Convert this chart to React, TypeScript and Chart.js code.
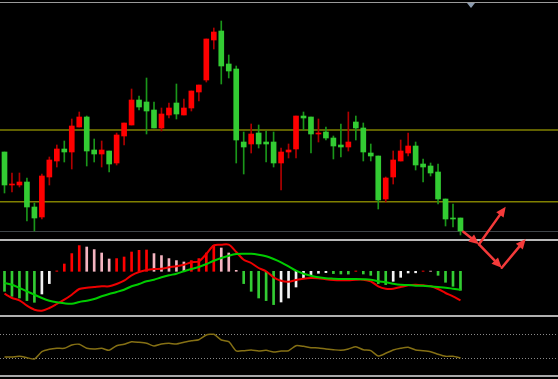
import React, { useEffect, useRef } from "react";
import { Chart, registerables } from "chart.js";

Chart.register(...registerables);

// ---------- data ----------
const OPEN = [98,65,65,68,43,33,73,89,101,98,123,133,100,96,99,87,114,125,150,148,140,122,135,147,135,142,158,170,210,219,186,181,108,106,117,108,108,87,98,101,134,133,116,118,112,105,103,128,122,97,94,51,73,89,97,104,86,84,78,51,32,32];
const HIGH = [98,77,77,72,47,76,93,105,109,131,138,134,111,109,99,117,127,161,154,172,148,142,147,166,151,159,165,211,222,229,195,184,118,126,125,119,118,102,106,134,138,133,131,123,114,126,138,134,127,106,94,73,99,110,117,108,91,87,86,51,46,32];
const LOW = [57,58,63,29,19,31,65,83,88,81,123,84,88,83,78,85,105,125,140,116,122,119,132,131,135,139,149,168,201,166,172,87,76,97,102,88,83,60,92,92,120,97,108,110,91,93,99,110,89,89,41,48,66,89,94,80,68,74,46,24,23,15];
const CLOSE = [65,66,68,43,32,74,90,101,98,124,133,99,96,100,86,115,127,150,143,139,122,136,142,136,142,159,165,211,218,184,179,110,103,116,106,106,87,98,100,134,132,116,117,112,104,103,108,122,98,94,50,72,90,99,104,85,83,77,51,31,31,19];

const PRICE_LEVELS = [120, 48.3];

const MACD_HIST = [-20,-25,-26.7,-29.3,-31,-22.7,-12.3,0.4,7.3,17.7,25.7,24.3,21.7,18.3,12.3,12.7,14.3,19.3,21,21.3,17.7,15.7,12.7,10.7,9.3,10.7,12.7,18.3,25.7,23.3,18.3,1,-12.3,-20,-26.7,-29.3,-33.3,-30.7,-26.7,-15.7,-6.7,-4.3,-2,-1.3,-2.3,-2.7,-2.8,0.3,-2.7,-4,-12.3,-13.3,-10,-6,-1.7,-1.5,0.3,0.2,-4,-11,-15,-19];
const DIF = [-22.4,-26.7,-29,-34.4,-38.4,-39.4,-36.7,-32.7,-28.4,-23.4,-17.7,-16.4,-15.7,-15,-15,-12.7,-9.4,-4,-0.7,1.3,2.3,2.6,4,5,6.6,9,10,17.3,26,26.6,26.6,19.3,11.6,8.3,3.3,0,-6,-9.4,-10.4,-8.7,-7.4,-6.7,-7,-8,-8.7,-9,-9,-8.4,-8.4,-10,-15,-17.4,-17.4,-15.7,-14,-13.4,-14,-15,-17.7,-21.7,-25,-29];
const DEA = [-11.7,-13.4,-16.7,-20,-23.4,-26.7,-29.4,-31,-32,-32.4,-30.7,-29.4,-27.7,-25,-22.7,-20.7,-18.4,-15,-12.7,-10,-8.4,-6,-4,-2.4,0,2.3,4.3,7.3,10.6,13.3,15.6,17.3,17.6,17.6,16.6,15,12.3,9,5,0.6,-2.4,-4.4,-6,-7,-7.4,-7.7,-7.7,-7.7,-8,-8.4,-10,-11,-12.4,-13.4,-13.7,-14.4,-14.4,-15,-15.7,-16.4,-17.4,-18.4];

const OSC = [32.2,32.2,33.3,31,28.8,41,45,46.7,46.7,52.2,53.3,46.7,45.5,46.7,43.3,51,53.3,57.7,56.7,55,50.5,53.8,55,53.8,56.7,59.3,61,68.8,70,60.5,57.7,42.2,42.7,43.8,42.2,43.3,40.5,42.2,42.7,51,50,47.7,47.2,45.5,44.3,43.3,45.5,49.3,44.3,42.7,33.8,38.3,43.8,46.7,48.3,43.8,42.7,41,36.7,33.3,33.3,30.5];
const OSC_LEVELS = [70, 30];

// arrows: [fromIndex, fromPrice, toIndex, toPrice]
const ARROWS = [
  [61.38, 18.3, 63.48, 5.7],
  [63.48, 5.7, 67.05, 43.3],
  [63.48, 5.7, 66.52, -17.7],
  [66.52, -17.7, 69.73, 11],
];

// ---------- styling ----------
const W = 558;
const STEP = 7.475;
const X_MIN = -4.5 / STEP;
const X_MAX = X_MIN + W / STEP;

const UP = "#ff0000";
const DOWN = "#33cc33";
const UP_WICK = "#b00000";
const DOWN_WICK = "#1a961a";

const idx = OPEN.map((_, i) => i);

const baseOptions = (yMin: number, yMax: number) => ({
  responsive: false,
  maintainAspectRatio: false,
  animation: false as const,
  events: [] as any[],
  layout: { padding: 0 },
  plugins: { legend: { display: false }, tooltip: { enabled: false } },
  scales: {
    x: { type: "linear" as const, min: X_MIN, max: X_MAX, display: false, offset: false, grid: { display: false } },
    y: { type: "linear" as const, min: yMin, max: yMax, display: false, grid: { display: false } },
  },
});

const levelsPlugin = {
  id: "levels",
  beforeDatasetsDraw(chart: any) {
    const { ctx, chartArea, scales } = chart;
    ctx.save();
    ctx.strokeStyle = "#808000";
    ctx.lineWidth = 1.5;
    PRICE_LEVELS.forEach((v) => {
      const py = scales.y.getPixelForValue(v);
      ctx.beginPath();
      ctx.moveTo(chartArea.left, py);
      ctx.lineTo(chartArea.right, py);
      ctx.stroke();
    });
    ctx.restore();
  },
};

const arrowsPlugin = {
  id: "arrows",
  afterDatasetsDraw(chart: any) {
    const { ctx, scales } = chart;
    ctx.save();
    ctx.strokeStyle = "#f43a3a";
    ctx.fillStyle = "#f43a3a";
    ctx.lineWidth = 2.5;
    ctx.lineCap = "round";
    ARROWS.forEach(([x1, y1, x2, y2]) => {
      const ax = scales.x.getPixelForValue(x1);
      const ay = scales.y.getPixelForValue(y1);
      const bx = scales.x.getPixelForValue(x2);
      const by = scales.y.getPixelForValue(y2);
      const ang = Math.atan2(by - ay, bx - ax);
      const hl = 10, hw = 4.5;
      const cx = bx - Math.cos(ang) * hl;
      const cy = by - Math.sin(ang) * hl;
      ctx.beginPath();
      ctx.moveTo(ax, ay);
      ctx.lineTo(cx, cy);
      ctx.stroke();
      ctx.beginPath();
      ctx.moveTo(bx, by);
      ctx.lineTo(cx + Math.sin(ang) * hw, cy - Math.cos(ang) * hw);
      ctx.lineTo(cx - Math.sin(ang) * hw, cy + Math.cos(ang) * hw);
      ctx.closePath();
      ctx.fill();
    });
    ctx.restore();
  },
};

const dottedPlugin = {
  id: "dotted",
  beforeDatasetsDraw(chart: any) {
    const { ctx, chartArea, scales } = chart;
    ctx.save();
    ctx.strokeStyle = "#8a8a8a";
    ctx.lineWidth = 1;
    ctx.setLineDash([1, 2]);
    OSC_LEVELS.forEach((v) => {
      const py = Math.round(scales.y.getPixelForValue(v)) + 0.5;
      ctx.beginPath();
      ctx.moveTo(chartArea.left, py);
      ctx.lineTo(chartArea.right, py);
      ctx.stroke();
    });
    ctx.restore();
  },
};

const histColors = MACD_HIST.map((v, i) => {
  const prev = i > 0 ? MACD_HIST[i - 1] : v + 1;
  if (v >= 0) return v >= prev ? "#ff0000" : "#f4b4c0";
  return v < prev ? "#33cc33" : "#f2f2f2";
});

function buildMain() {
  return {
    type: "bar",
    data: {
      datasets: [
        {
          type: "bar",
          data: idx.map((i) => ({ x: i, y: [OPEN[i], CLOSE[i]] })),
          backgroundColor: idx.map((i) => (CLOSE[i] >= OPEN[i] ? UP : DOWN)),
          borderWidth: 0,
          grouped: false,
          categoryPercentage: 1,
          barPercentage: 1,
          maxBarThickness: 5,
          order: 0,
        },
        {
          type: "bar",
          data: idx.map((i) => ({ x: i, y: [LOW[i], HIGH[i]] })),
          backgroundColor: idx.map((i) => (CLOSE[i] >= OPEN[i] ? UP_WICK : DOWN_WICK)),
          borderWidth: 0,
          grouped: false,
          categoryPercentage: 1,
          barPercentage: 1,
          maxBarThickness: 1,
          order: 1,
        },
      ],
    },
    options: baseOptions(-30, 250),
    plugins: [levelsPlugin, arrowsPlugin],
  };
}

function buildMacd() {
  return {
    type: "bar",
    data: {
      datasets: [
        {
          type: "line",
          data: idx.map((i) => ({ x: i, y: DEA[i] })),
          borderColor: "#00cc00",
          borderWidth: 2,
          pointRadius: 0,
          tension: 0.3,
          order: 0,
        },
        {
          type: "line",
          data: idx.map((i) => ({ x: i, y: DIF[i] })),
          borderColor: "#ee0000",
          borderWidth: 2,
          pointRadius: 0,
          tension: 0.3,
          order: 1,
        },
        {
          type: "bar",
          data: idx.map((i) => ({ x: i, y: MACD_HIST[i] })),
          backgroundColor: histColors,
          borderWidth: 0,
          grouped: false,
          categoryPercentage: 1,
          barPercentage: 1,
          maxBarThickness: 2,
          order: 2,
        },
      ],
    },
    options: baseOptions(-43.7, 30.3),
  };
}

function buildOsc() {
  return {
    type: "line",
    data: {
      datasets: [
        {
          data: idx.map((i) => ({ x: i, y: OSC[i] })),
          borderColor: "#857014",
          borderWidth: 1.5,
          pointRadius: 0,
          tension: 0.2,
        },
      ],
    },
    options: baseOptions(2.17, 98.83),
    plugins: [dottedPlugin],
  };
}

function Panel({ top, height, build }: { top: number; height: number; build: () => any }) {
  const ref = useRef<HTMLCanvasElement>(null);
  useEffect(() => {
    const chart = new Chart(ref.current as HTMLCanvasElement, build());
    return () => chart.destroy();
  }, []);
  return (
    <canvas
      ref={ref}
      width={W}
      height={height}
      style={{ position: "absolute", left: 0, top, width: W, height }}
    />
  );
}

const hline = (top: number, h: number, color: string) => (
  <div style={{ position: "absolute", left: 0, top, width: W, height: h, background: color }} />
);

export default function App() {
  return (
    <div
      style={{
        position: "fixed",
        left: 0,
        top: 0,
        width: W,
        height: 379,
        background: "#000",
        overflow: "hidden",
      }}
    >
      {hline(2, 1, "#9a9a9a")}
      {hline(231, 1, "#3e4448")}
      {hline(239, 2, "#b8b8b8")}
      {hline(315, 2, "#b0b0b0")}
      {hline(375, 2, "#a8a8a8")}
      <div
        style={{
          position: "absolute",
          left: 467,
          top: 3,
          width: 0,
          height: 0,
          borderLeft: "4px solid transparent",
          borderRight: "4px solid transparent",
          borderTop: "5px solid #8c9cb0",
        }}
      />
      <Panel top={317} height={58} build={buildOsc} />
      <Panel top={241} height={74} build={buildMacd} />
      <Panel top={0} height={280} build={buildMain} />
    </div>
  );
}
